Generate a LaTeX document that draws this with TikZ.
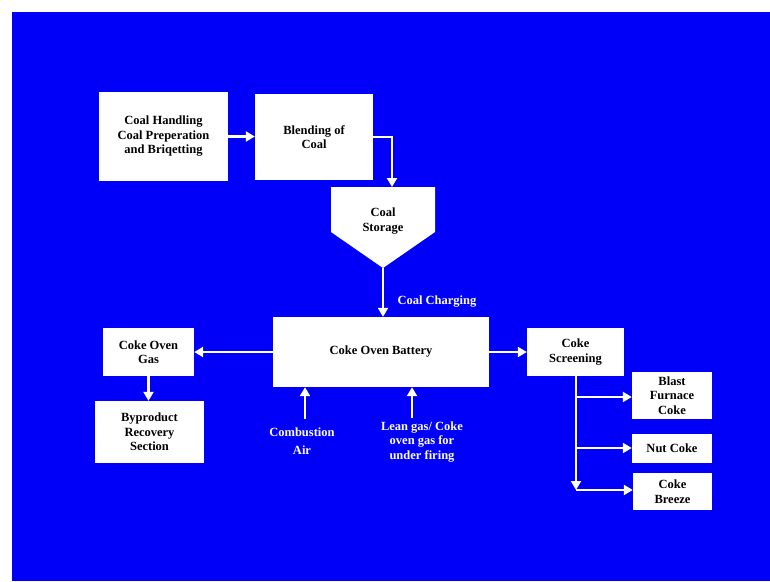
\documentclass[tikz,border=0pt]{standalone}
\usepackage{fontspec}
\setmainfont{Liberation Serif}
\usetikzlibrary{arrows.meta}
\definecolor{bgblue}{RGB}{0,0,250}
\tikzset{
  box/.style={fill=white, draw=none, inner sep=0pt, align=center,
    font=\bfseries\fontsize{12.5}{14.5}\selectfont, text=black},
  lbl/.style={inner sep=0pt, align=center, text=white,
    font=\bfseries\fontsize{12.5}{14.5}\selectfont},
  flow/.style={draw=white, line width=2.2pt,
    -{Triangle[width=10pt,length=9pt]}}
}
\begin{document}
\begin{tikzpicture}[x=1pt,y=-1pt]
\useasboundingbox (0,0) rectangle (770,581);
\fill[white] (0,0) rectangle (770,581);
\fill[bgblue] (12,12) rectangle (770,581);

\node[box, minimum width=129, minimum height=89] (ch) at (163.5,136.5)
  {Coal Handling\\Coal Preperation\\and Briqetting};
\node[box, minimum width=118, minimum height=86] (bl) at (314,137)
  {Blending of\\Coal};

% hopper (coal storage)
\fill[white] (331,187) -- (435,187) -- (435,232) -- (383,268) -- (331,232) -- cycle;
\node[box, fill=none] (st) at (383,221) {Coal\\Storage};
\coordinate (stTop) at (392,187);
\coordinate (stTip) at (383,268);

\node[box, minimum width=216, minimum height=70] (cob) at (381,352)
  {Coke Oven Battery};
\node[box, minimum width=91, minimum height=48] (cog) at (148.5,352)
  {Coke Oven\\Gas};
\node[box, minimum width=109, minimum height=62] (bp) at (149.5,432)
  {Byproduct\\Recovery\\Section};
\node[box, minimum width=97, minimum height=48] (cs) at (575.5,352)
  {Coke\\Screening};
\node[box, minimum width=80, minimum height=47] (bfc) at (672,395.5)
  {Blast\\Furnace\\Coke};
\node[box, minimum width=80, minimum height=29] (nc) at (672,448.5)
  {Nut Coke};
\node[box, minimum width=79, minimum height=37] (cb) at (672.5,491.5)
  {Coke\\Breeze};

\node[lbl] (lcc) at (437,302) {Coal Charging};
\node[lbl] (lca) at (302,441) {Combustion\\[4pt]Air};
\node[lbl] (llg) at (422,442) {Lean gas/ Coke\\oven gas for\\under firing};
\coordinate (caS) at (305,419);
\coordinate (lgS) at (412,418);

% connectors
\draw[flow] (ch.east) -- (ch.east -| bl.west);
\draw[flow] (bl.east) -| (stTop);
\draw[flow] (stTip) -- (stTip |- cob.north);
\draw[flow] (cob.west) -- (cog.east);
\draw[flow] (cog.south) -- (cog.south |- bp.north);
\draw[flow] (cob.east) -- (cs.west);
\draw[flow] (caS) -- (caS |- cob.south);
\draw[flow] (lgS) -- (lgS |- cob.south);

\coordinate (v0) at (576,376);
\coordinate (v1) at (576,397);
\coordinate (v2) at (576,448);
\coordinate (v3) at (576,490);
\draw[flow] (v0) -- (v3);
\draw[flow] (v1) -- (v1 -| bfc.west);
\draw[flow] (v2) -- (v2 -| nc.west);
\draw[flow] (v3) -- (v3 -| cb.west);
\end{tikzpicture}
\end{document}
